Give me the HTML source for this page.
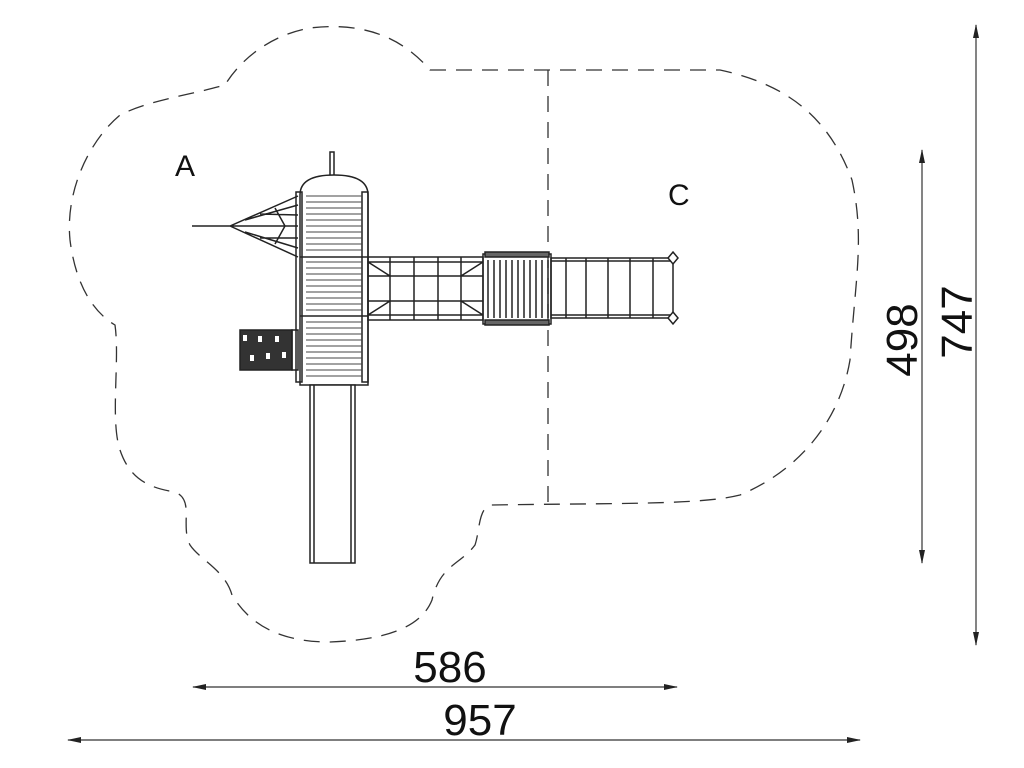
<!DOCTYPE html>
<html><head><meta charset="utf-8"><style>html,body{margin:0;padding:0;background:#fff}svg{display:block}</style></head>
<body>
<svg width="1024" height="768" viewBox="0 0 1024 768" xmlns="http://www.w3.org/2000/svg">
<defs>
<marker id="ar" markerWidth="14" markerHeight="8" refX="13" refY="4" orient="auto" markerUnits="userSpaceOnUse"><path d="M0,1 L14,4 L0,7 Z" fill="#222"/></marker>
</defs>
<g fill="none" stroke="#333" stroke-width="1.3" stroke-dasharray="16,10">
<path d="M430,70 L720,70 C790,85 830,120 852,180 C865,240 855,280 850,360 C840,420 800,470 740,495 C700,505 620,503 490,505 C478,510 480,530 475,545 C460,565 440,565 432,600 C420,630 380,640 330,642 C280,642 250,625 232,595 C225,570 200,560 190,545 C180,525 195,500 175,492 C150,488 130,480 120,450 C110,420 120,360 115,325 C90,310 75,280 70,240 C65,190 90,140 120,115 C150,100 190,95 225,85 C240,60 270,35 310,28 C360,22 400,35 430,70 Z"/>
<path d="M548,70 L548,505"/>
</g>
<g fill="none" stroke="#222" stroke-width="1.5">
<rect x="330" y="152" width="4" height="24" fill="#fff"/>
<path d="M300,195 Q300,175 334,175 Q368,175 368,195 L368,385 L300,385 Z" fill="#fff"/>
<rect x="296" y="192" width="6" height="190"/>
<rect x="362" y="192" width="6" height="190"/>
<line x1="300" y1="257" x2="368" y2="257"/>
<line x1="300" y1="316" x2="368" y2="316"/>
<g stroke-width="0.9" stroke="#444">
<path d="M306,196H362M306,202H362M306,208H362M306,214H362M306,220H362M306,226H362M306,232H362M306,238H362M306,244H362M306,250H362M306,262H362M306,268H362M306,274H362M306,280H362M306,286H362M306,292H362M306,298H362M306,304H362M306,310H362M306,322H362M306,328H362M306,334H362M306,340H362M306,346H362M306,352H362M306,358H362M306,364H362M306,370H362M306,376H362"/>
</g>
<rect x="310" y="385" width="45" height="178" fill="#fff"/>
<line x1="314" y1="385" x2="314" y2="563"/><line x1="351" y1="385" x2="351" y2="563"/>
<path d="M192,226 L230,226 L298,196 M230,226 L298,257 M230,226 L298,226 M245,220 L298,205 M245,232 L298,248 M260,214 L298,215 M260,238 L298,238 M275,208 L285,226 L275,244"/>
<rect x="240" y="330" width="52" height="40" fill="#333"/>
<g fill="#fff" stroke="none"><rect x="243" y="335" width="4" height="6"/><rect x="258" y="336" width="4" height="6"/><rect x="275" y="336" width="4" height="6"/><rect x="250" y="355" width="4" height="6"/><rect x="266" y="353" width="4" height="6"/><rect x="282" y="352" width="4" height="6"/></g>
<rect x="292" y="330" width="6" height="40"/>
<rect x="368" y="257" width="115" height="63"/>
<path d="M368,262H483M368,315H483M368,276H483M368,301H483M390,257V320M414,257V320M438,257V320M461,257V320M368,262L390,276M483,262L461,276M368,315L390,301M483,315L461,301"/>
<rect x="483" y="254" width="68" height="70"/>
<rect x="485" y="252" width="64" height="5" fill="#666"/>
<rect x="485" y="320" width="64" height="5" fill="#666"/>
<path d="M494,260V318M500,260V318M506,260V318M512,260V318M518,260V318M524,260V318M530,260V318M536,260V318M542,260V318M488,260V318M548,260V318"/>
<rect x="551" y="258" width="122" height="60"/>
<path d="M551,261H673M551,315H673M566,258V318M586,258V318M608,258V318M630,258V318M653,258V318"/>
<path d="M673,252L678,258L673,264L668,258Z M673,312L678,318L673,324L668,318Z" fill="#fff"/>
</g>
<g font-family="Liberation Sans, sans-serif" fill="#111">
<text x="175" y="176" font-size="30">A</text>
<text x="668" y="205" font-size="30">C</text>
<text x="450" y="682" font-size="44" text-anchor="middle">586</text>
<text x="480" y="735" font-size="44" text-anchor="middle">957</text>
<text transform="translate(917,340) rotate(-90)" font-size="44" text-anchor="middle">498</text>
<text transform="translate(972,322) rotate(-90)" font-size="44" text-anchor="middle">747</text>
</g>
<g stroke="#333" stroke-width="1.2">
<line x1="220" y1="687" x2="677" y2="687" marker-end="url(#ar)"/>
<line x1="220" y1="687" x2="193" y2="687" marker-end="url(#ar)"/>
<line x1="460" y1="740" x2="860" y2="740" marker-end="url(#ar)"/>
<line x1="460" y1="740" x2="68" y2="740" marker-end="url(#ar)"/>
<line x1="922" y1="350" x2="922" y2="150" marker-end="url(#ar)"/>
<line x1="922" y1="350" x2="922" y2="563" marker-end="url(#ar)"/>
<line x1="976" y1="330" x2="976" y2="25" marker-end="url(#ar)"/>
<line x1="976" y1="330" x2="976" y2="645" marker-end="url(#ar)"/>
</g>
</svg>
</body></html>
